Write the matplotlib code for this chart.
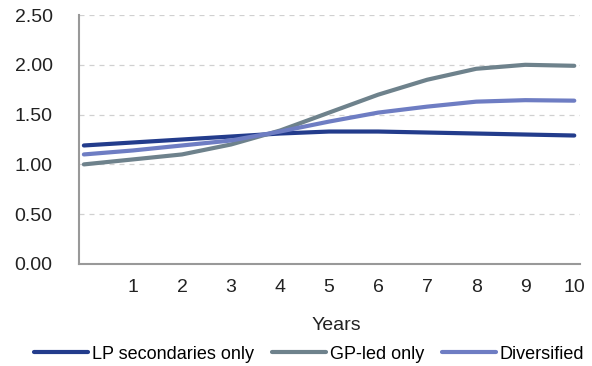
import numpy as np
import matplotlib
matplotlib.use("Agg")
import matplotlib.pyplot as plt

plt.rcParams["font.family"] = ["Liberation Sans", "DejaVu Sans"]

years = [0, 1, 2, 3, 4, 5, 6, 7, 8, 9, 10]
lp_only = [1.19, 1.22, 1.25, 1.28, 1.31, 1.33, 1.33, 1.32, 1.31, 1.30, 1.29]
gp_led = [1.00, 1.05, 1.10, 1.20, 1.34, 1.52, 1.70, 1.85, 1.96, 2.00, 1.99]
diversified = [1.10, 1.14, 1.19, 1.24, 1.33, 1.43, 1.52, 1.58, 1.63, 1.645, 1.64]
xticks = [1, 2, 3, 4, 5, 6, 7, 8, 9, 10]
yticks = [0.0, 0.5, 1.0, 1.5, 2.0, 2.5]

fig = plt.figure(figsize=(5.92, 3.66), dpi=100)
ax = fig.add_axes([0.1334, 0.2787, 0.8466, 0.6803])

ax.plot(years, lp_only, color="#233C8C", lw=3, solid_capstyle="round", label="LP secondaries only")
ax.plot(years, gp_led, color="#6E828C", lw=3, solid_capstyle="round", label="GP-led only")
ax.plot(years, diversified, color="#6E7DC3", lw=3, solid_capstyle="round", label="Diversified")

ax.set_xlim(-0.1, 10.12)
ax.set_ylim(0, 2.5)
ax.set_xticks(xticks)
ax.set_yticks(yticks)
ax.set_yticklabels([f"{v:.2f}" for v in yticks])
ax.tick_params(length=0, labelsize=14, colors="#222222")
ax.tick_params(axis="y", pad=19)
ax.tick_params(axis="x", pad=11)

for v in yticks[1:]:
    ax.axhline(v, color="#D0D0D0", lw=0.9, ls=(0, (4, 4)), zorder=0)

for s in ["top", "right"]:
    ax.spines[s].set_visible(False)
for s in ["left", "bottom"]:
    ax.spines[s].set_color("#999999")
    ax.spines[s].set_linewidth(1.5)

ax.set_xlabel("Years", fontsize=14, color="#222222")
ax.xaxis.set_label_coords(0.5 + 7 / 501, -0.213)

fig.legend(loc="center", bbox_to_anchor=(0.522, 0.032), ncol=3, frameon=False,
           fontsize=13, handlelength=3.0, handletextpad=0.2, columnspacing=1.0)

plt.savefig("out.png", dpi=100)
plt.close()
